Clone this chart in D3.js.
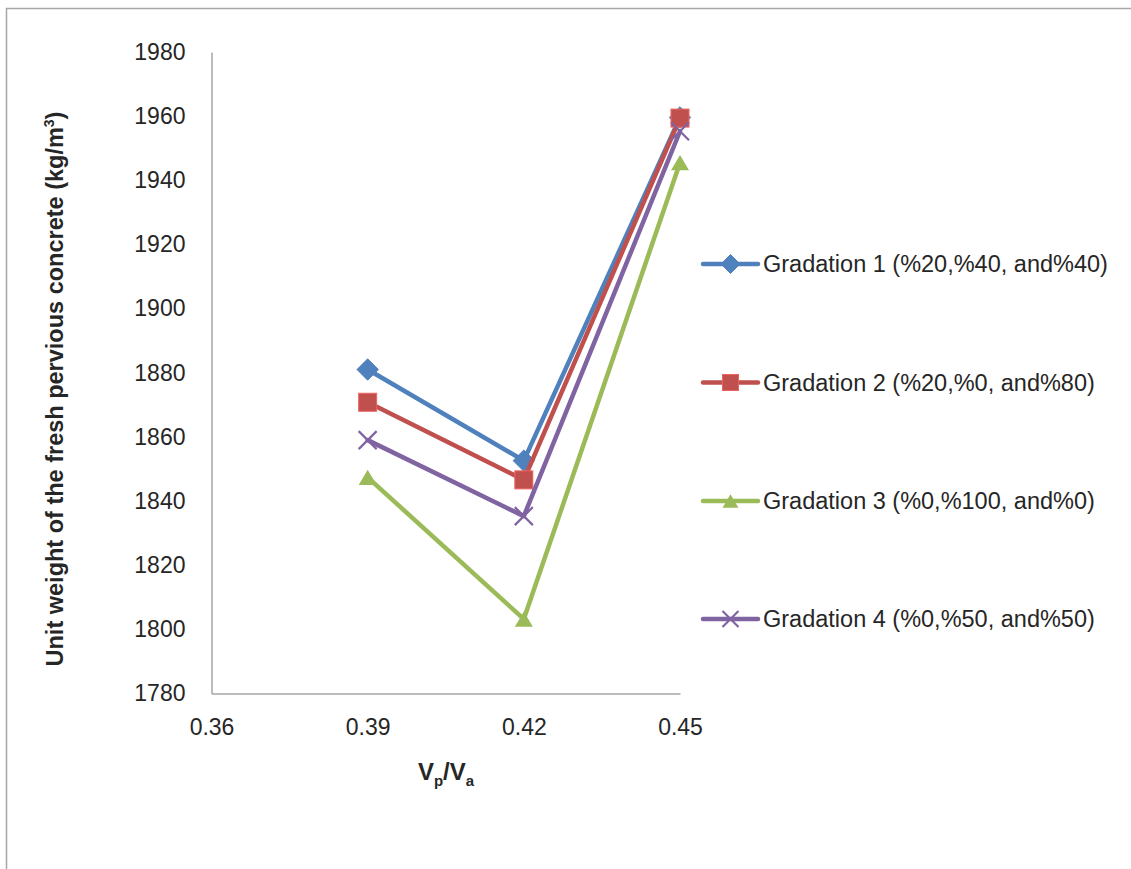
<!DOCTYPE html>
<html>
<head>
<meta charset="utf-8">
<script src="https://cdn.jsdelivr.net/npm/d3@7/dist/d3.min.js"></script>
<style>
  html, body { margin: 0; padding: 0; background: #fff; }
  svg { display: block; font-family: "Liberation Sans", Arial, sans-serif; }
</style>
</head>
<body>
<svg id="chart" width="1131" height="869"></svg>
<script>
// Water/cement-paste ratio on the x axis
const ratios = [0.39, 0.42, 0.45];
const xTicks = [0.36, 0.39, 0.42, 0.45];
const yTicks = [1780, 1800, 1820, 1840, 1860, 1880, 1900, 1920, 1940, 1960, 1980];

const seriesNames = [
  "Gradation 1 (%20,%40, and%40)",
  "Gradation 2 (%20,%0, and%80)",
  "Gradation 3 (%0,%100, and%0)",
  "Gradation 4 (%0,%50, and%50)"
];
const gradation1 = [1881.0, 1852.6, 1959.6];
const gradation2 = [1870.8, 1846.6, 1959.4];
const gradation3 = [1847.4, 1803.2, 1945.5];
const gradation4 = [1859.0, 1835.3, 1955.3];
const seriesColors = ["#4F81BD", "#C0504D", "#9BBB59", "#8064A2"];
const seriesMarkers = ["diamond", "square", "triangle", "cross"];

const allSeries = [gradation1, gradation2, gradation3, gradation4].map((vals, i) => ({
  name: seriesNames[i],
  color: seriesColors[i],
  marker: seriesMarkers[i],
  points: ratios.map((r, j) => ({ x: r, y: vals[j] }))
}));

const svg = d3.select("#chart");

// outer frame
svg.append("path")
  .attr("d", "M6.5,869 L6.5,8.5 L1131,8.5")
  .attr("fill", "none").attr("stroke", "#a6a6a6").attr("stroke-width", 1.5);

const x = d3.scaleLinear().domain([0.36, 0.45]).range([211.5, 680]);
const y = d3.scaleLinear().domain([1780, 1980]).range([693.5, 52]);

const textColor = "#262626";
const axisColor = "#a6a6a6";

// y axis
const yAxis = svg.append("g").attr("transform", `translate(${x(0.36)},0)`)
  .call(d3.axisLeft(y).tickValues(yTicks).tickSize(0).tickPadding(26).tickFormat(d3.format("d")));
yAxis.select(".domain").attr("stroke", axisColor).attr("stroke-width", 1.5);
yAxis.selectAll("text").attr("font-size", 23).attr("fill", textColor)
  .attr("font-family", "Liberation Sans, Arial, sans-serif");

// x axis
const xAxis = svg.append("g").attr("transform", `translate(0,${y(1780)})`)
  .call(d3.axisBottom(x).tickValues(xTicks).tickSize(0).tickPadding(25).tickFormat(d3.format(".2f")));
xAxis.select(".domain").attr("stroke", axisColor).attr("stroke-width", 1.5);
xAxis.selectAll("text").attr("font-size", 23).attr("fill", textColor)
  .attr("font-family", "Liberation Sans, Arial, sans-serif");

// axis titles
const yTitle = svg.append("text")
  .attr("transform", "translate(63,389) rotate(-90)")
  .attr("text-anchor", "middle")
  .attr("font-size", 23.5).attr("font-weight", "bold").attr("fill", textColor);
yTitle.append("tspan").text("Unit weight of the fresh pervious concrete (kg/m");
yTitle.append("tspan").attr("font-size", 14).attr("dy", -9).text("3");
yTitle.append("tspan").attr("dy", 9).text(")");

const xTitle = svg.append("text")
  .attr("x", 446).attr("y", 780)
  .attr("text-anchor", "middle")
  .attr("font-size", 24).attr("font-weight", "bold").attr("fill", textColor);
xTitle.append("tspan").text("V");
xTitle.append("tspan").attr("font-size", 15).attr("dy", 6).text("p");
xTitle.append("tspan").attr("dy", -6).text("/V");
xTitle.append("tspan").attr("font-size", 15).attr("dy", 6).text("a");

// marker shapes
function drawMarker(g, type, color, s) {
  if (type === "diamond") {
    g.append("path").attr("d", d3.symbol(d3.symbolDiamond2, s * s * 0.9)())
      .attr("fill", color).attr("stroke", color).attr("stroke-width", 1);
  } else if (type === "square") {
    g.append("rect").attr("x", -s / 2).attr("y", -s / 2).attr("width", s).attr("height", s)
      .attr("fill", color).attr("stroke", d3.color(color).brighter(0.6)).attr("stroke-width", 1);
  } else if (type === "triangle") {
    const h = s * 0.85;
    g.append("path").attr("d", `M0,${-h / 2} L${s / 2},${h / 2} L${-s / 2},${h / 2} Z`)
      .attr("fill", color);
  } else {
    const r = s / 2;
    g.append("path").attr("d", `M${-r},${-r} L${r},${r} M${-r},${r} L${r},${-r}`)
      .attr("stroke", color).attr("stroke-width", 2.2).attr("fill", "none");
  }
}

const line = d3.line().x(d => x(d.x)).y(d => y(d.y));

const plot = svg.append("g");
allSeries.forEach(s => {
  plot.append("path").datum(s.points)
    .attr("d", line)
    .attr("fill", "none").attr("stroke", s.color)
    .attr("stroke-width", 4.5).attr("stroke-linejoin", "round").attr("stroke-linecap", "round");
  s.points.forEach(p => {
    const g = plot.append("g").attr("transform", `translate(${x(p.x)},${y(p.y)})`);
    drawMarker(g, s.marker, s.color, 18);
  });
});

// legend
const legendY = [264, 382.5, 501, 619];
allSeries.forEach((s, i) => {
  const g = svg.append("g").attr("transform", `translate(0,${legendY[i]})`);
  g.append("line").attr("x1", 703).attr("x2", 758).attr("y1", 0).attr("y2", 0)
    .attr("stroke", s.color).attr("stroke-width", 4.5).attr("stroke-linecap", "round");
  const mg = g.append("g").attr("transform", "translate(730.5,0)");
  drawMarker(mg, s.marker, s.color, 16);
  g.append("text").attr("x", 763).attr("y", 0).attr("dy", "0.36em")
    .attr("font-size", 23.5).attr("fill", textColor).text(s.name);
});
</script>
</body>
</html>
